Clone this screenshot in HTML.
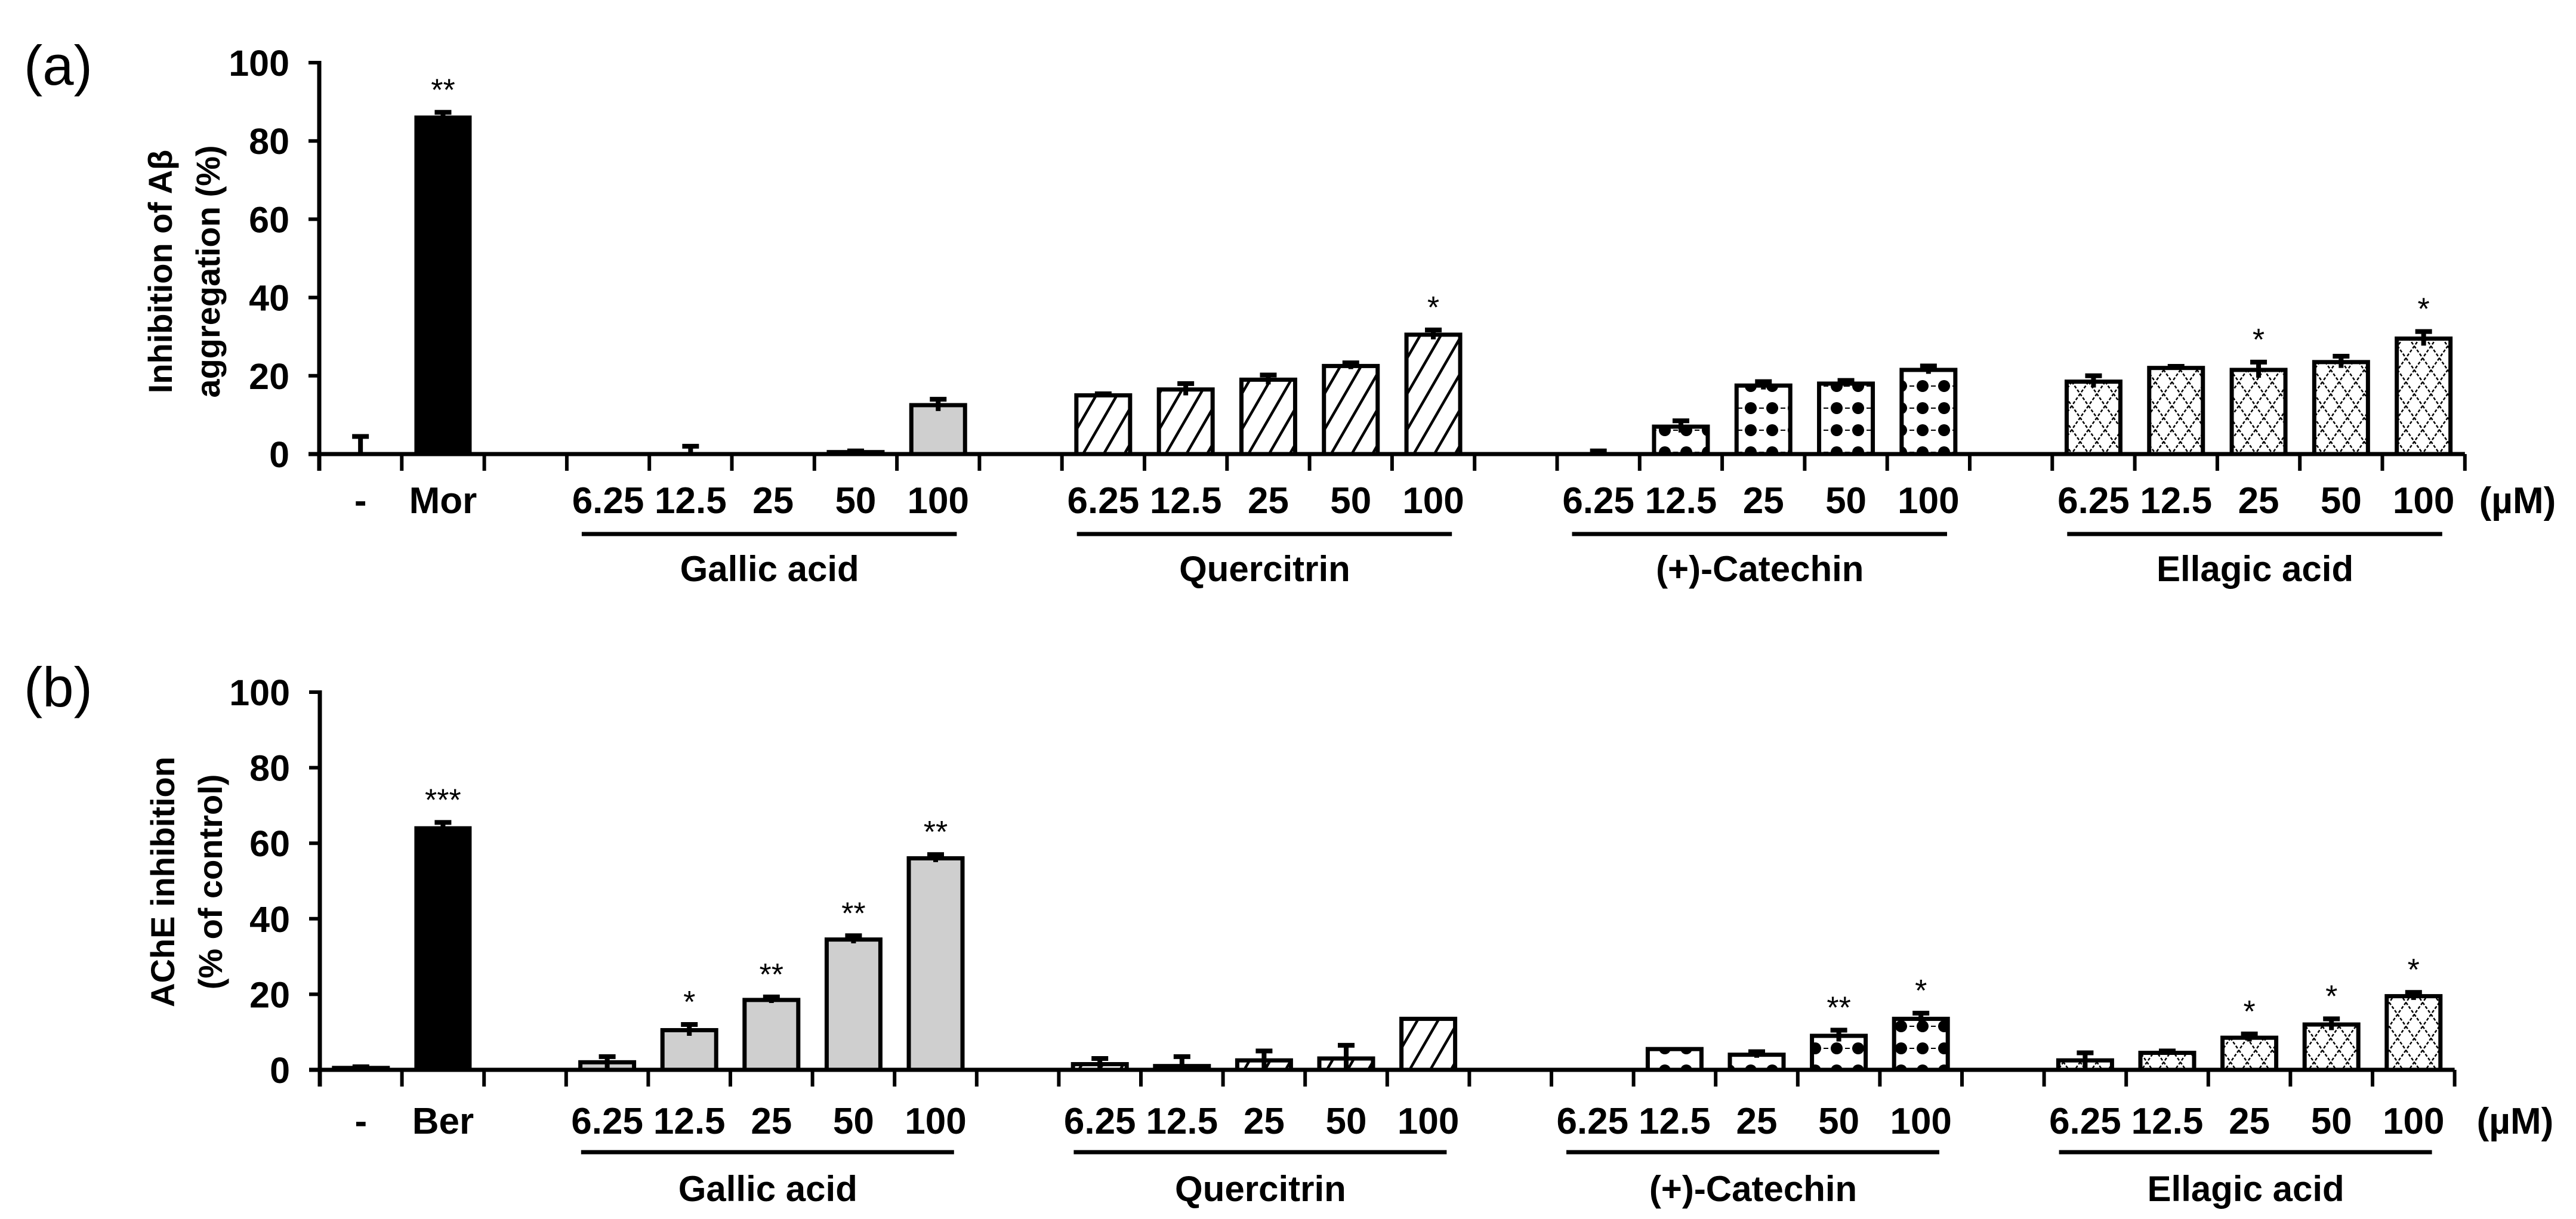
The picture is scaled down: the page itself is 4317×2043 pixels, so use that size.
<!DOCTYPE html>
<html><head><meta charset="utf-8"><style>
html,body{margin:0;padding:0;background:#fff;}
svg{display:block;}
text{font-family:"Liberation Sans",Arial,sans-serif;fill:#000;}
</style></head><body>
<svg id="fig" width="4317" height="2043" viewBox="0 0 4317 2043" xmlns="http://www.w3.org/2000/svg">
<defs>
<pattern id="hatch" patternUnits="userSpaceOnUse" width="30" height="30" patternTransform="rotate(30)">
<rect width="30" height="30" fill="#fff"/><line x1="0" y1="0" x2="0" y2="30" stroke="#000" stroke-width="9"/>
</pattern>
<pattern id="dots" patternUnits="userSpaceOnUse" width="36" height="37">
<rect width="36" height="37" fill="#fff"/>
<line x1="0" y1="18" x2="36" y2="18" stroke="#000" stroke-width="2" stroke-dasharray="4 4"/>
<circle cx="18" cy="18" r="10" fill="#000"/>
</pattern>
<pattern id="cross" patternUnits="userSpaceOnUse" width="28" height="40">
<rect width="28" height="40" fill="#fff"/>
<path d="M0 0 L28 40 M28 0 L0 40" stroke="#000" stroke-width="2.5" stroke-dasharray="5 3" fill="none"/>
</pattern>
</defs>
<g id="panelA"></g>
<g id="panelB"></g>
</svg>
<script>
// Shared categories
const groupNames = ["Gallic acid","Quercitrin","(+)-Catechin","Ellagic acid"];
const concLabels = ["6.25","12.5","25","50","100"];
const yTicks = [0,20,40,60,80,100];

// Panel (a): Inhibition of Aβ aggregation
const aCtrlLabels = ["-","Mor"];
const aCtrlValues = [0,86.5];
const aCtrlErrors = [4.5,0.8];
const aCtrlStars = ["","**"];
const aGallic = [0,0,0,0.5,12.5];
const aGallicErr = [0,2,0,0.3,1.5];
const aGallicStars = ["","","","",""];
const aQuer = [15,16.5,19,22.5,30.5];
const aQuerErr = [0.4,1.5,1.2,0.8,1.2];
const aQuerStars = ["","","","","*"];
const aCat = [0,7,17.5,18,21.5];
const aCatErr = [0.8,1.5,1,0.8,1];
const aCatStars = ["","","","",""];
const aEll = [18.5,22,21.5,23.5,29.5];
const aEllErr = [1.5,0.4,2,1.5,1.8];
const aEllStars = ["","","*","","*"];

// Panel (b): AChE inhibition
const bCtrlLabels = ["-","Ber"];
const bCtrlValues = [0.5,64.5];
const bCtrlErrors = [0.3,1];
const bCtrlStars = ["","***"];
const bGallic = [2,10.5,18.5,34.5,56];
const bGallicErr = [1.5,1.5,0.8,1,1];
const bGallicStars = ["","*","**","**","**"];
const bQuer = [1.5,1,2.5,3,13.5];
const bQuerErr = [1.5,2.5,2.5,3.5,0];
const bQuerStars = ["","","","",""];
const bCat = [0,5.5,4,9,13.5];
const bCatErr = [0,0,0.8,1.5,1.5];
const bCatStars = ["","","","**","*"];
const bEll = [2.5,4.5,8.5,12,19.5];
const bEllErr = [2,0.5,1,1.5,1];
const bEllStars = ["","","*","*","*"];

const NS="http://www.w3.org/2000/svg";
function mk(parent,tag,attrs,txt){const e=document.createElementNS(NS,tag);for(const k in attrs)e.setAttribute(k,attrs[k]);if(txt!==undefined)e.textContent=txt;parent.appendChild(e);return e;}

function drawPanel(cfg){
  const g=document.getElementById(cfg.id);
  const x0=cfg.x0, slot=cfg.slot, y0=cfg.y0, yTop=cfg.yTop;
  const ys=v=>y0-(v/100)*(y0-yTop);
  const slotCenter=i=>x0+(i+0.5)*slot;
  const bw=96;
  const pl=mk(g,"text",{x:40,y:cfg.letterY,"font-size":94},cfg.letter);
  
  
  const tt=mk(g,"text",{transform:`translate(${cfg.titleX1},${cfg.titleCY}) rotate(-90)`,"text-anchor":"middle","font-size":56,"font-weight":"bold"},cfg.title1);
  
  
  const tt2=mk(g,"text",{transform:`translate(${cfg.titleX2},${cfg.titleCY}) rotate(-90)`,"text-anchor":"middle","font-size":56,"font-weight":"bold"},cfg.title2);
  
  
  yTicks.forEach(t=>{
    const ln=mk(g,"line",{x1:x0-18,x2:x0,y1:ys(t),y2:ys(t),stroke:"#000","stroke-width":6});
    
    
    const tl=mk(g,"text",{x:x0-50,y:ys(t)+22,"text-anchor":"end","font-size":61,"font-weight":"bold"},String(t));
    
    
  });
  const bars=[];
  cfg.ctrlLabels.forEach((l,i)=>bars.push({slot:i,v:cfg.ctrlValues[i],e:cfg.ctrlErrors[i],s:cfg.ctrlStars[i],fill:i==0?"#fff":"#000",label:l,name:"bar-"+(i==0?"control":l.toLowerCase())}));
  const fills=["#cfcfcf","url(#hatch)","url(#dots)","url(#cross)"];
  cfg.groups.forEach((gr,gi)=>{
    gr.v.forEach((v,j)=>bars.push({slot:3+gi*6+j,v:v,e:gr.e[j],s:gr.s[j],fill:fills[gi],label:concLabels[j],name:"bar-"+groupNames[gi].replace(/[^A-Za-z]+/g,"-").toLowerCase().replace(/^-|-$/g,"")+"-"+concLabels[j]}));
    const ul=mk(g,"line",{x1:x0+(3+gi*6)*slot+25,x2:x0+(3+gi*6+5)*slot-38,y1:cfg.ulY,y2:cfg.ulY,stroke:"#000","stroke-width":7});
    
    
    const gn=mk(g,"text",{x:x0+(3+gi*6+2.5)*slot-6,y:cfg.gnY,"text-anchor":"middle","font-size":60,"font-weight":"bold"},groupNames[gi]);
    
    
  });
  bars.forEach(b=>{
    const cx=slotCenter(b.slot);
    const top=ys(b.v);
    if(b.v>0.05){
      const r=mk(g,"rect",{x:cx-bw/2+3,y:top,width:bw-6,height:Math.max(y0-top,0.5),fill:b.fill,stroke:"#000","stroke-width":(b.fill=="#000"?0:7)});
      
      
      if(b.fill=="#000"){r.setAttribute('x',cx-bw/2);r.setAttribute('width',bw);}
    }
    if(b.e>0){
      const et=ys(b.v+b.e), eb=ys(Math.max(b.v-b.e,0));
      const el=mk(g,"path",{d:`M${cx} ${eb} L${cx} ${et} M${cx-14} ${et} L${cx+14} ${et}`,stroke:"#000","stroke-width":8,fill:"none"});
      
      
    }
    if(b.s){
      const st=mk(g,"text",{x:cx,y:ys(b.v+b.e)-20,"text-anchor":"middle","font-size":52},b.s);
      
      
    }
    const xl=mk(g,"text",{x:cx,y:cfg.labY,"text-anchor":"middle","font-size":62,"font-weight":"bold"},b.label);
    
    
  });
  const xa=mk(g,"line",{x1:x0-18,x2:x0+26*slot,y1:y0,y2:y0,stroke:"#000","stroke-width":7});
  
  
  const ya=mk(g,"line",{x1:x0,x2:x0,y1:yTop-3,y2:y0+28,stroke:"#000","stroke-width":7});
  
  
  for(let i=1;i<=26;i++){
    const tk=mk(g,"line",{x1:x0+i*slot,x2:x0+i*slot,y1:y0,y2:y0+28,stroke:"#000","stroke-width":6});
    
    
  }
  const um=mk(g,"text",{x:cfg.umX,y:cfg.labY,"text-anchor":"middle","font-size":62,"font-weight":"bold"},"(µM)");
  
  
}

drawPanel({id:"panelA",letter:"(a)",letterY:142,x0:535,slot:138.3,y0:761,yTop:105,
  title1:"Inhibition of Aβ",title2:"aggregation (%)",titleX1:288,titleX2:368,titleCY:455,
  ctrlLabels:aCtrlLabels,ctrlValues:aCtrlValues,ctrlErrors:aCtrlErrors,ctrlStars:aCtrlStars,
  groups:[{v:aGallic,e:aGallicErr,s:aGallicStars},{v:aQuer,e:aQuerErr,s:aQuerStars},{v:aCat,e:aCatErr,s:aCatStars},{v:aEll,e:aEllErr,s:aEllStars}],
  labY:860,ulY:895,gnY:974,umX:4219});
drawPanel({id:"panelB",letter:"(b)",letterY:1184,x0:536,slot:137.6,y0:1793,yTop:1160,
  title1:"AChE inhibition",title2:"(% of control)",titleX1:292,titleX2:372,titleCY:1478,
  ctrlLabels:bCtrlLabels,ctrlValues:bCtrlValues,ctrlErrors:bCtrlErrors,ctrlStars:bCtrlStars,
  groups:[{v:bGallic,e:bGallicErr,s:bGallicStars},{v:bQuer,e:bQuerErr,s:bQuerStars},{v:bCat,e:bCatErr,s:bCatStars},{v:bEll,e:bEllErr,s:bEllStars}],
  labY:1900,ulY:1931,gnY:2013,umX:4215});
</script>
</body></html>
